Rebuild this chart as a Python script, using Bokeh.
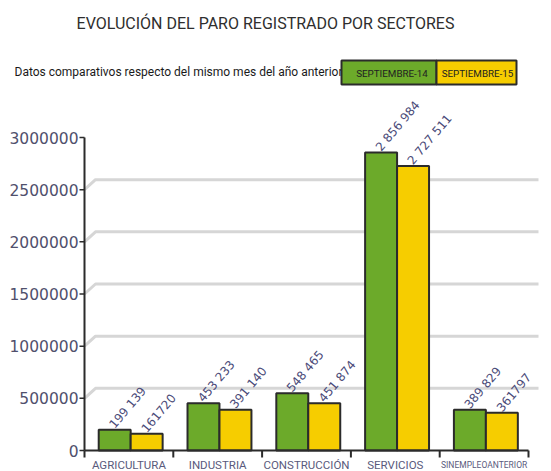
from bokeh.plotting import figure
from bokeh.models import ColumnDataSource, Range1d
from bokeh.embed import file_html
from bokeh.resources import INLINE
from bokeh.core.properties import value

# ---------------- data ----------------
categories = ["AGRICULTURA", "INDUSTRIA", "CONSTRUCCIÓN", "SERVICIOS", "SINEMPLEOANTERIOR"]
sep14 = [199139, 453233, 548465, 2856984, 389829]
sep15 = [161720, 391140, 451874, 2727511, 361797]
labels14 = ["199 139", "453 233", "548 465", "2 856 984", "389 829"]
labels15 = ["161720", "391 140", "451 874", "2 727 511", "361797"]
yticks = [0, 500000, 1000000, 1500000, 2000000, 2500000, 3000000]
ytick_labels = ["0", "500000", "1000000", "1500000", "2000000", "2500000", "3000000"]
series_names = ["SEPTIEMBRE-14", "SEPTIEMBRE-15"]
title = "EVOLUCIÓN DEL PARO REGISTRADO POR SECTORES"
subtitle = "Datos comparativos respecto del mismo mes del año anterior"

# ---------------- style / layout ----------------
GREEN = "#6caa2a"
YELLOW = "#f6cd00"
DARK = "#2b2b2b"
GRID = "#d6d6d6"
FONT = "Roboto"
W, H = 551, 471
cat_font_sizes = ["11.5px", "11.5px", "11.5px", "11.5px", "8.5px"]

# pixel geometry of the plotting scale
X0_PX, SX = 84, 88.8          # x=0 at 84px, 88.8 px per category
Y0_PX, SY = 450, 104.333e-6   # y=0 at 450px, px per unit


def dx(px):
    return (px - X0_PX) / SX


def dy(py):
    return (Y0_PX - py) / SY


p = figure(width=W, height=H,
           x_range=Range1d(dx(0), dx(W)), y_range=Range1d(dy(H), dy(0)),
           output_backend="svg", toolbar_location=None,
           x_axis_location=None, y_axis_location=None, min_border=0)
p.min_border_left = p.min_border_right = p.min_border_top = p.min_border_bottom = 0
p.grid.visible = False
p.outline_line_color = None

n = len(categories)

# ---------------- header ----------------
p.text(x=[dx(265)], y=[dy(22.5)], text=[title], text_font=value(FONT), text_font_size="16px",
       text_align="center", text_baseline="middle", text_color="#2e2e2e")
p.text(x=[dx(14)], y=[dy(71.5)], text=[subtitle], text_font=value(FONT), text_font_size="12px",
       text_align="left", text_baseline="middle", text_color="#1a1a1a")
p.quad(left=[dx(341), dx(436)], right=[dx(436), dx(516)], top=[dy(60), dy(60)],
       bottom=[dy(84), dy(84)], fill_color=[GREEN, YELLOW], line_color=DARK, line_width=2)
p.text(x=[dx(391.5), dx(477)], y=[dy(72.5), dy(72.5)], text=series_names,
       text_font=value(FONT), text_font_size="9.8px", text_align="center",
       text_baseline="middle", text_color="#222222")

# ---------------- pseudo-3D gridlines ----------------
DX = dx(95) - dx(84)
DY = dy(440) - dy(450)
XG = dx(538)
xs, ys = [], []
for v in yticks[1:-1]:
    xs.append([0, DX, XG])
    ys.append([v, v + DY, v + DY])
p.multi_line(xs=xs, ys=ys, line_color=GRID, line_width=3)

# ---------------- bars ----------------
x14 = [i + 0.34 for i in range(n)]
x15 = [i + 0.70 for i in range(n)]
src = ColumnDataSource(dict(x14=x14, x15=x15, s14=sep14, s15=sep15, l14=labels14, l15=labels15))
p.vbar(x="x14", top="s14", width=0.36, source=src, fill_color=GREEN, line_color=DARK, line_width=2)
p.vbar(x="x15", top="s15", width=0.36, source=src, fill_color=YELLOW, line_color=DARK, line_width=2)

# ---------------- axes ----------------
# axis lines (y up to the last tick, x across the categories)
p.segment(x0=[0, 0], y0=[0, 0], x1=[0, n], y1=[yticks[-1], 0], line_color=DARK, line_width=2)

# y ticks and labels
TICK_X = dx(79)
p.segment(x0=[TICK_X] * len(yticks), y0=yticks, x1=[0] * len(yticks), y1=yticks,
          line_color=DARK, line_width=1.5)
p.text(x=[dx(78)] * len(yticks), y=yticks, text=ytick_labels, text_font=value("DejaVu Sans"),
       text_font_size="15.5px", text_align="right", text_baseline="middle",
       text_color="#50506c")

# x category boundary ticks and labels
bounds = list(range(n + 1))
p.segment(x0=bounds, y0=[0] * (n + 1), x1=bounds, y1=[dy(457)] * (n + 1),
          line_color=DARK, line_width=2)
cat_src = ColumnDataSource(dict(x=[i + 0.5 for i in range(n)], y=[dy(464.5)] * n,
                                t=categories, fs=cat_font_sizes))
p.text(x="x", y="y", text="t", text_font_size="fs", source=cat_src,
       text_font=value(FONT), text_align="center", text_baseline="middle",
       text_color="#5a5a7c")

# value labels
for xc, yc, lc in (("x14", "s14", "l14"), ("x15", "s15", "l15")):
    p.text(x=xc, y=yc, text=lc, source=src, angle=0.87, x_offset=-3, y_offset=-3,
           text_font=value("DejaVu Sans"), text_font_size="12px", text_align="left",
           text_baseline="middle", text_color="#4a4a78")

open("out.html", "w").write(file_html(p, INLINE))
